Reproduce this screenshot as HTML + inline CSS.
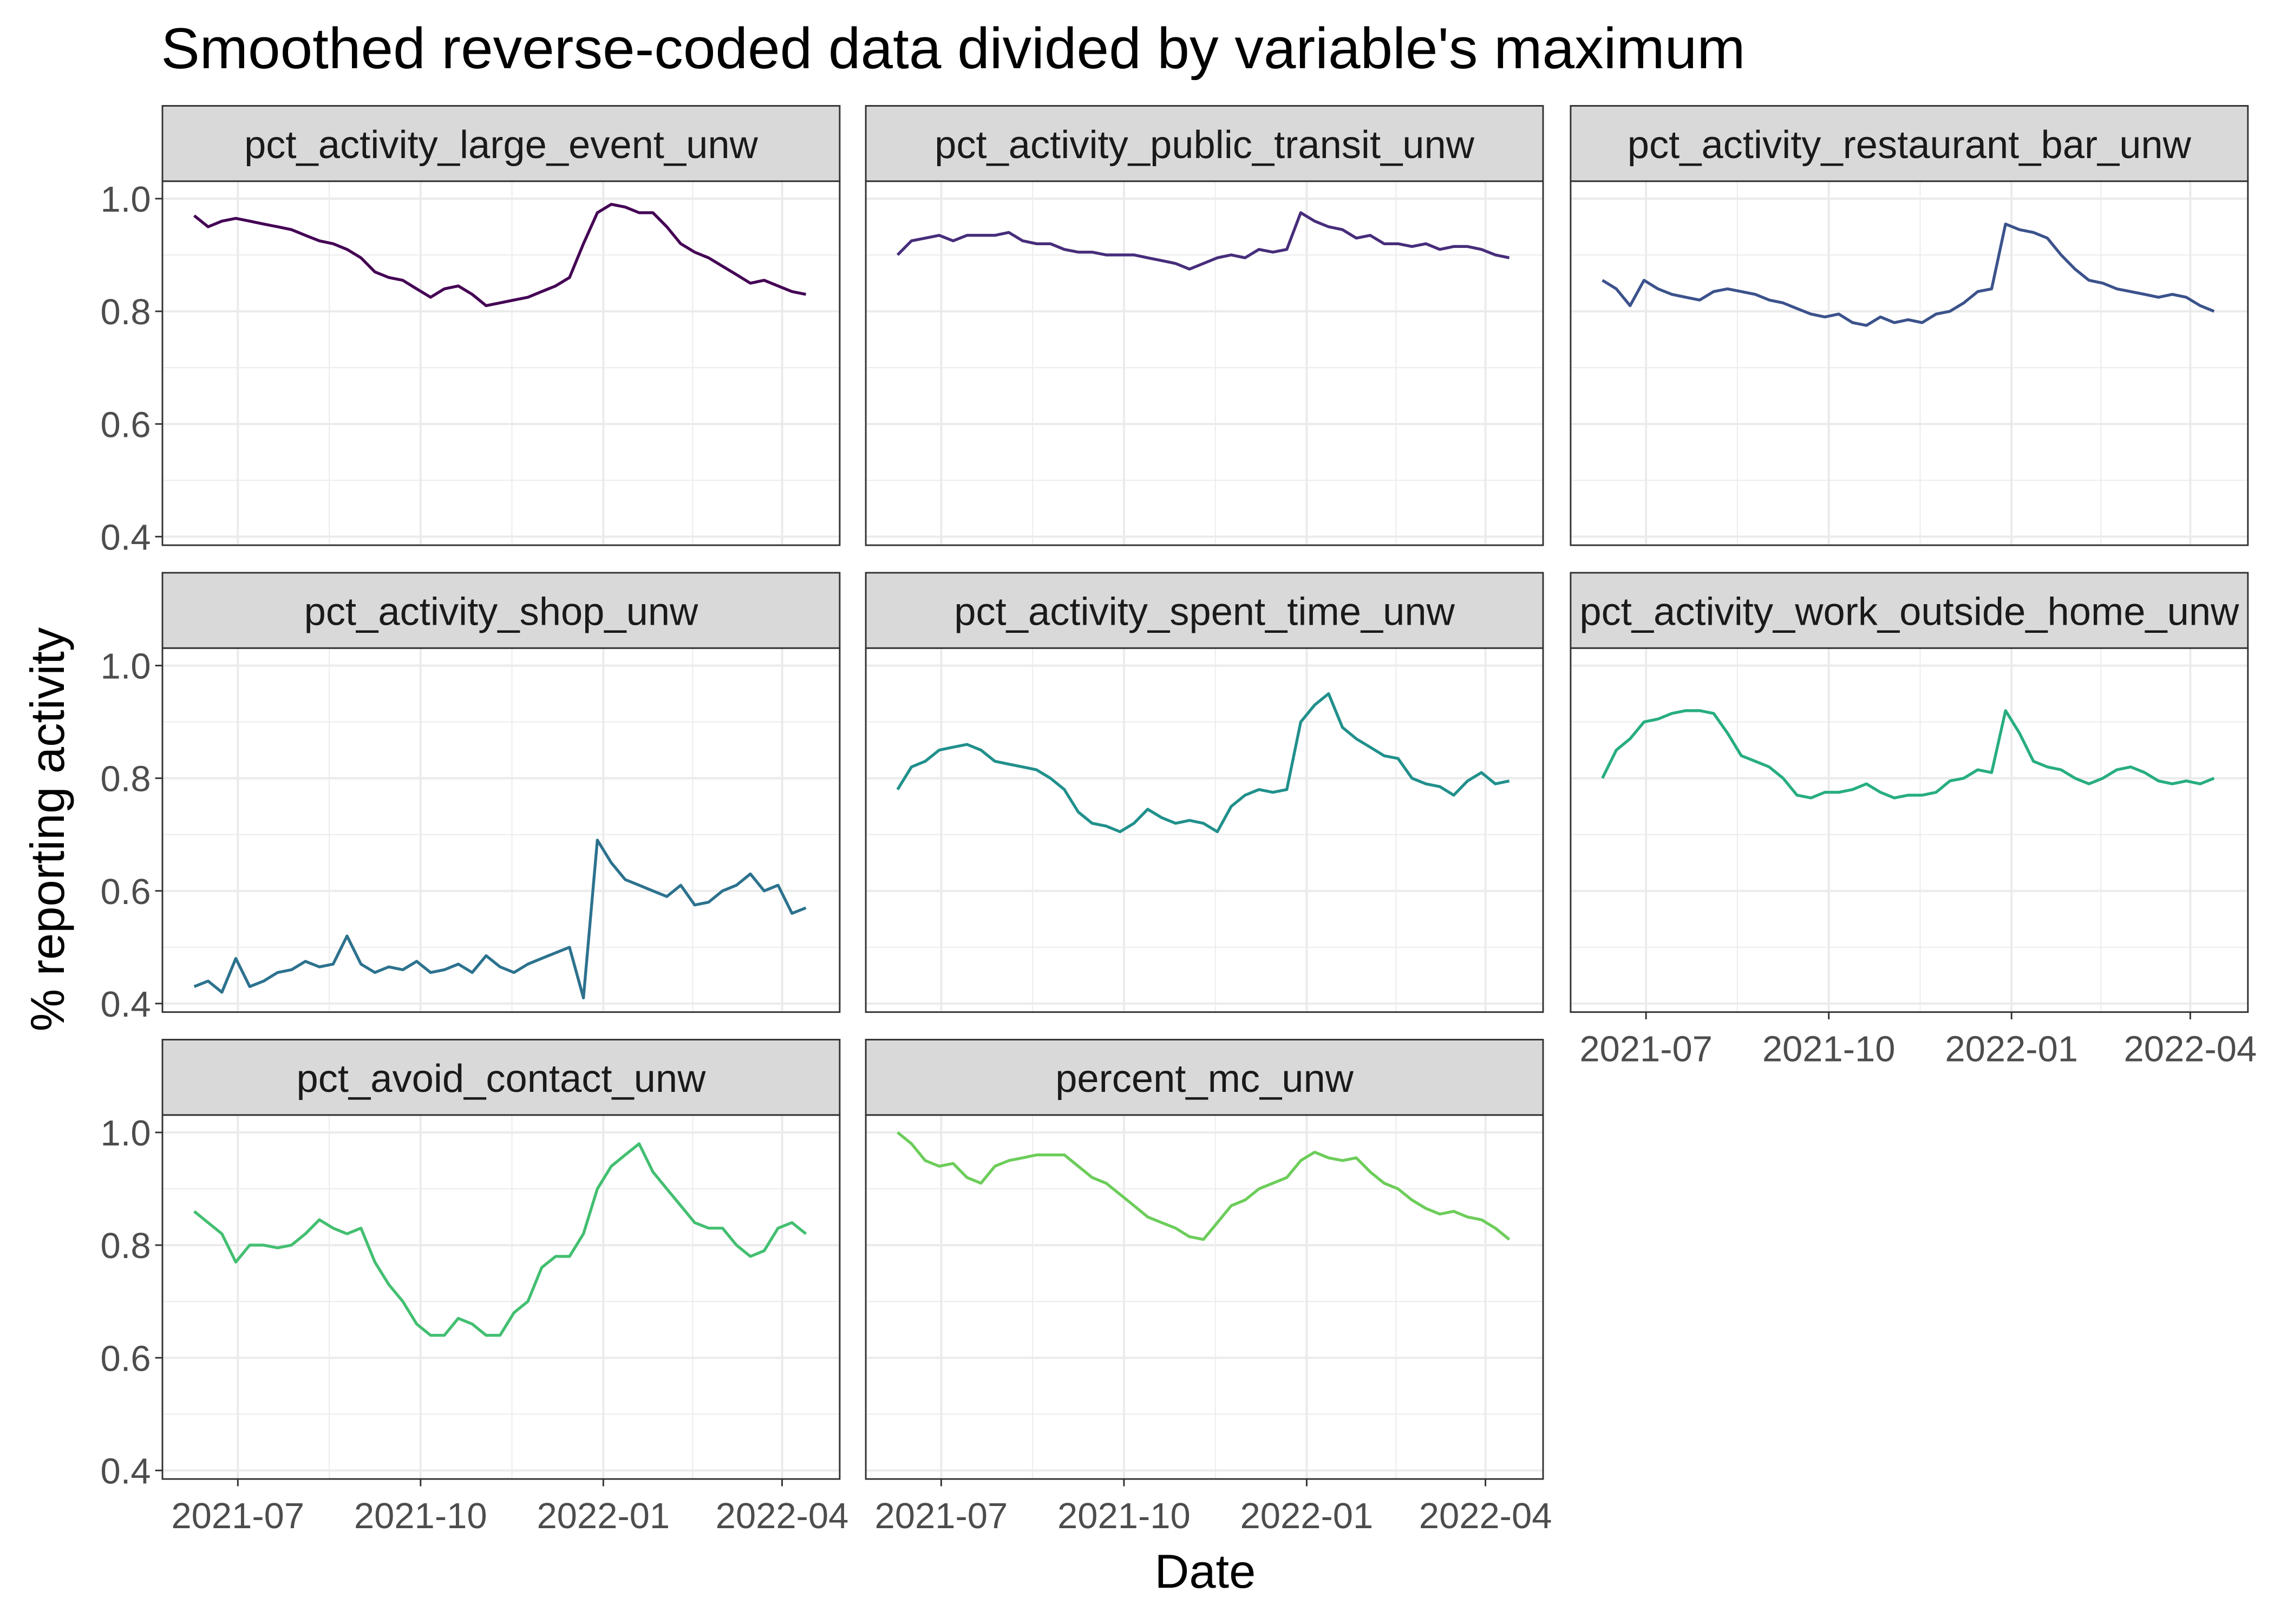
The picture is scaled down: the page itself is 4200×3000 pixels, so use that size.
<!DOCTYPE html>
<html><head><meta charset="utf-8">
<style>html,body{margin:0;padding:0;background:#fff}svg{display:block}text{font-family:"Liberation Sans",Arial,sans-serif}</style>
</head><body>
<svg id="chart" width="4200" height="3000" viewBox="0 0 1568 1120" xmlns="http://www.w3.org/2000/svg">
<rect width="1568" height="1120" fill="#fff"/>
<text x="111" y="47" font-size="40" fill="#000">Smoothed reverse-coded data divided by variable's maximum</text>
<text x="831" y="1095" font-size="33" text-anchor="middle" fill="#000">Date</text>
<text transform="translate(44,572) rotate(-90)" font-size="33" text-anchor="middle" fill="#000">% reporting activity</text>
</svg>
<script>
const startDate = "2021-06-09";
const stepDays = 7;
const panelNames = ["pct_activity_large_event_unw","pct_activity_public_transit_unw","pct_activity_restaurant_bar_unw","pct_activity_shop_unw","pct_activity_spent_time_unw","pct_activity_work_outside_home_unw","pct_avoid_contact_unw","percent_mc_unw"];
const seriesLargeEvent = [0.97,0.95,0.96,0.965,0.96,0.955,0.95,0.945,0.935,0.925,0.92,0.91,0.895,0.87,0.86,0.855,0.84,0.825,0.84,0.845,0.83,0.81,0.815,0.82,0.825,0.835,0.845,0.86,0.92,0.975,0.99,0.985,0.975,0.975,0.95,0.92,0.905,0.895,0.88,0.865,0.85,0.855,0.845,0.835,0.83];
const seriesPublicTransit = [0.90,0.925,0.93,0.935,0.925,0.935,0.935,0.935,0.94,0.925,0.92,0.92,0.91,0.905,0.905,0.90,0.90,0.90,0.895,0.89,0.885,0.875,0.885,0.895,0.90,0.895,0.91,0.905,0.91,0.975,0.96,0.95,0.945,0.93,0.935,0.92,0.92,0.915,0.92,0.91,0.915,0.915,0.91,0.90,0.895];
const seriesRestaurant = [0.855,0.84,0.81,0.855,0.84,0.83,0.825,0.82,0.835,0.84,0.835,0.83,0.82,0.815,0.805,0.795,0.79,0.795,0.78,0.775,0.79,0.78,0.785,0.78,0.795,0.80,0.815,0.835,0.84,0.955,0.945,0.94,0.93,0.90,0.875,0.855,0.85,0.84,0.835,0.83,0.825,0.83,0.825,0.81,0.80];
const seriesShop = [0.43,0.44,0.42,0.48,0.43,0.44,0.455,0.46,0.475,0.465,0.47,0.52,0.47,0.455,0.465,0.46,0.475,0.455,0.46,0.47,0.455,0.485,0.465,0.455,0.47,0.48,0.49,0.50,0.41,0.69,0.65,0.62,0.61,0.60,0.59,0.61,0.575,0.58,0.60,0.61,0.63,0.60,0.61,0.56,0.57];
const seriesSpentTime = [0.78,0.82,0.83,0.85,0.855,0.86,0.85,0.83,0.825,0.82,0.815,0.80,0.78,0.74,0.72,0.715,0.705,0.72,0.745,0.73,0.72,0.725,0.72,0.705,0.75,0.77,0.78,0.775,0.78,0.90,0.93,0.95,0.89,0.87,0.855,0.84,0.835,0.80,0.79,0.785,0.77,0.795,0.81,0.79,0.795];
const seriesWork = [0.80,0.85,0.87,0.90,0.905,0.915,0.92,0.92,0.915,0.88,0.84,0.83,0.82,0.80,0.77,0.765,0.775,0.775,0.78,0.79,0.775,0.765,0.77,0.77,0.775,0.795,0.80,0.815,0.81,0.92,0.88,0.83,0.82,0.815,0.80,0.79,0.80,0.815,0.82,0.81,0.795,0.79,0.795,0.79,0.80];
const seriesAvoid = [0.86,0.84,0.82,0.77,0.80,0.80,0.795,0.80,0.82,0.845,0.83,0.82,0.83,0.77,0.73,0.70,0.66,0.64,0.64,0.67,0.66,0.64,0.64,0.68,0.70,0.76,0.78,0.78,0.82,0.90,0.94,0.96,0.98,0.93,0.90,0.87,0.84,0.83,0.83,0.80,0.78,0.79,0.83,0.84,0.82];
const seriesMask = [1.0,0.98,0.95,0.94,0.945,0.92,0.91,0.94,0.95,0.955,0.96,0.96,0.96,0.94,0.92,0.91,0.89,0.87,0.85,0.84,0.83,0.815,0.81,0.84,0.87,0.88,0.90,0.91,0.92,0.95,0.965,0.955,0.95,0.955,0.93,0.91,0.90,0.88,0.865,0.855,0.86,0.85,0.845,0.83,0.81];
const yTicks = [0.4,0.6,0.8,1.0];
const yTickLabels = ["0.4","0.6","0.8","1.0"];
const yMinor = [0.5,0.7,0.9];
const xTickDates = ["2021-07-01","2021-10-01","2022-01-01","2022-04-01"];
const xTickLabels = ["2021-07","2021-10","2022-01","2022-04"];
const xMinorDates = ["2021-08-16","2021-11-16","2022-02-15"];

const allSeries=[seriesLargeEvent,seriesPublicTransit,seriesRestaurant,seriesShop,seriesSpentTime,seriesWork,seriesAvoid,seriesMask];
const colors=["#440154","#472D7B","#3B528B","#2C728E","#21908C","#27AD81","#43BF71","#6CCD5A"];
const NS="http://www.w3.org/2000/svg";
const svg=document.getElementById('chart');
function mk(t,a,p){const e=document.createElementNS(NS,t);for(const k in a)e.setAttribute(k,a[k]);(p||svg).appendChild(e);return e;}
const DAY=86400000, t0=Date.parse("2021-07-01");
const colX=[112,597,1083], rowTop=[73,395,717];
function xs(c,d){return colX[c]+52+(Date.parse(d)-t0)/DAY*1.3696;}
function ys(r,v){return rowTop[r]+64+(1.0-v)*388.5;}
function dateAt(i){return new Date(Date.parse(startDate)+i*stepDays*DAY).toISOString().slice(0,10);}
panelNames.forEach((name,i)=>{
  const r=Math.floor(i/3), c=i%3, x0=colX[c], w=467, top=rowTop[r];
  const g=mk('g',{});
  
  
  const strip=mk('rect',{x:x0,y:top,width:w,height:52,fill:'#D9D9D9',stroke:'#333','stroke-width':1.1},g);
  
  
  const st=mk('text',{x:x0+w/2,y:top+36,'font-size':27,'text-anchor':'middle',fill:'#1A1A1A'},g);
  st.textContent=name;
  
  
  const py=top+52, ph=251;
  mk('rect',{x:x0,y:py,width:w,height:ph,fill:'#fff'},g);
  yMinor.forEach(v=>mk('line',{x1:x0,x2:x0+w,y1:ys(r,v),y2:ys(r,v),stroke:'#EBEBEB','stroke-width':0.7},g));
  xMinorDates.forEach(d=>mk('line',{x1:xs(c,d),x2:xs(c,d),y1:py,y2:py+ph,stroke:'#EBEBEB','stroke-width':0.7},g));
  yTicks.forEach(v=>mk('line',{x1:x0,x2:x0+w,y1:ys(r,v),y2:ys(r,v),stroke:'#EBEBEB','stroke-width':1.5},g));
  xTickDates.forEach(d=>mk('line',{x1:xs(c,d),x2:xs(c,d),y1:py,y2:py+ph,stroke:'#EBEBEB','stroke-width':1.5},g));
  const vals=allSeries[i];
  const pts=vals.map((v,k)=>xs(c,dateAt(k)).toFixed(1)+','+ys(r,v).toFixed(1)).join(' ');
  const ln=mk('polyline',{points:pts,fill:'none',stroke:colors[i],'stroke-width':2,'stroke-linejoin':'round'},g);
  
  
  mk('rect',{x:x0,y:py,width:w,height:ph,fill:'none',stroke:'#333','stroke-width':1.1},g);
  if(c===0){
    yTicks.forEach((v,k)=>{
      mk('line',{x1:x0-5,x2:x0,y1:ys(r,v),y2:ys(r,v),stroke:'#333','stroke-width':1.1},g);
      const t=mk('text',{x:x0-8,y:ys(r,v)+9,'font-size':25,'text-anchor':'end',fill:'#4D4D4D'},g);
      t.textContent=yTickLabels[k];
      
      
    });
  }
  if(r===2 || (r===1 && c===2)){
    xTickDates.forEach((d,k)=>{
      mk('line',{x1:xs(c,d),x2:xs(c,d),y1:py+ph,y2:py+ph+5,stroke:'#333','stroke-width':1.1},g);
      const t=mk('text',{x:xs(c,d),y:py+ph+34,'font-size':25,'text-anchor':'middle',fill:'#4D4D4D'},g);
      t.textContent=xTickLabels[k];
      
      
    });
  }
});
</script>
</body></html>
